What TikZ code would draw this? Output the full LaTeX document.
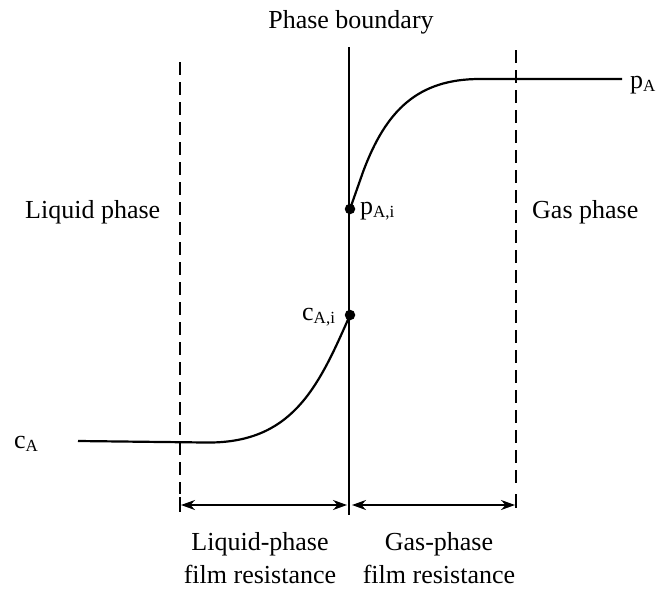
\documentclass[tikz,border=0pt]{standalone}
\usepackage{fontspec}
\setmainfont{Liberation Serif}
\usetikzlibrary{arrows.meta}
\newcommand{\subtxt}[1]{\raisebox{-3.5pt}{\fontsize{17}{17}\selectfont #1}}
\tikzset{
  lbl/.style={inner sep=0pt, font=\fontsize{26}{33}\selectfont},
  dashline/.style={line width=2pt, dash pattern=on 13pt off 7pt},
  mainline/.style={line width=2.2pt},
  curveline/.style={line width=2.2pt, line join=round},
  dimarrow/.style={line width=1.8pt, {Stealth[length=14pt,width=10pt]}-{Stealth[length=14pt,width=10pt]}},
  dotnode/.style={circle, fill=black, inner sep=0pt, minimum size=10.5pt}
}
\begin{document}
\begin{tikzpicture}[x=1pt,y=-1pt]
\useasboundingbox (0,0) rectangle (661,589);
% coordinates
\coordinate (bTop) at (349,47);
\coordinate (bBot) at (349,515);
\coordinate (lTop) at (180,62);
\coordinate (lBot) at (180,494);
\coordinate (lTickA) at (180,497);
\coordinate (lTickB) at (180,512);
\coordinate (rTop) at (516,50);
\coordinate (rBot) at (516,490);
\coordinate (rTickA) at (516,494);
\coordinate (rTickB) at (516,508);
\coordinate (aL) at (181,505);
\coordinate (aM1) at (347,505);
\coordinate (aM2) at (352,505);
\coordinate (aR) at (515,505);
\coordinate (cStart) at (78,441);
\coordinate (pEnd) at (622,79);
% lines
\draw[mainline] (bTop) -- (bBot);
\draw[dashline] (lTop) -- (lBot);
\draw[line width=2pt] (lTickA) -- (lTickB);
\draw[dashline] (rTop) -- (rBot);
\draw[line width=2pt] (rTickA) -- (rTickB);
% dots
\node[dotnode] (pai) at (350,209) {};
\node[dotnode] (cai) at (350,315) {};
% curves
\draw[curveline] (cStart) -- (205,442.5) .. controls (292,444) and (318,388) .. (cai.center);
\draw[curveline] (pai.center) -- (363,172) .. controls (386,110) and (418,79) .. (480,79) -- (pEnd);
% arrows
\draw[dimarrow] (aL) -- (aM1);
\draw[dimarrow] (aM2) -- (aR);
% labels
\node[lbl, anchor=base] (title) at (351,28) {Phase boundary};
\node[lbl, anchor=base west] (liq) at (25,218) {Liquid phase};
\node[lbl, anchor=base west] (gas) at (532,218) {Gas phase};
\node[lbl, anchor=base west] (pAi) at (360,214) {p\subtxt{A,i}};
\node[lbl, anchor=base west] (cAi) at (302,320) {c\subtxt{A,i}};
\node[lbl, anchor=base west] (cA) at (14,448) {c\subtxt{A}};
\node[lbl, anchor=base west] (pA) at (630,88) {p\subtxt{A}};
\node[lbl, anchor=base, align=center] (liqres) at (260,583) {Liquid-phase\\film resistance};
\node[lbl, anchor=base, align=center] (gasres) at (439,583) {Gas-phase\\film resistance};
\end{tikzpicture}
\end{document}
